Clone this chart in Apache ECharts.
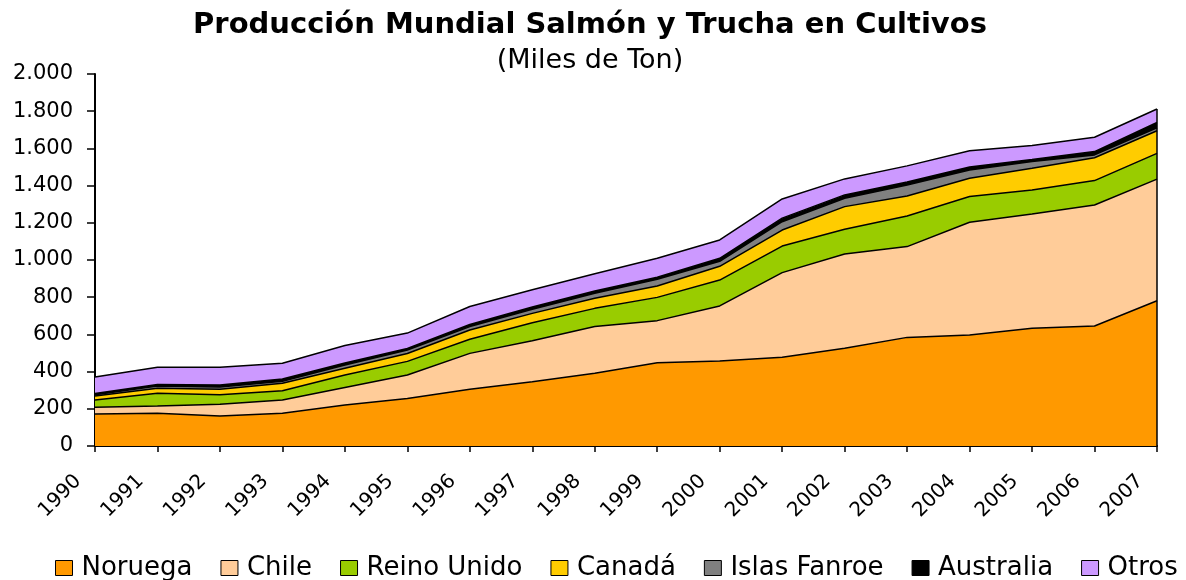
<!DOCTYPE html>
<html>
<head>
<meta charset="utf-8">
<script src="https://cdn.jsdelivr.net/npm/echarts@6/dist/echarts.min.js"></script>
<style>
  html,body{margin:0;padding:0;background:#fff;}
  #chart{width:1186px;height:580px;}
</style>
</head>
<body>
<div id="chart"></div>
<script>
  var years = ['1990','1991','1992','1993','1994','1995','1996','1997','1998','1999','2000','2001','2002','2003','2004','2005','2006','2007'];
  var noruega = [172,176,161,176,220,256,305,346,391,448,457,477,525,584,597,633,645,781];
  var chile = [36,39,63,71,95,126,193,220,251,226,296,455,507,488,606,614,651,654];
  var reinoUnido = [39,68,52,50,67,73,76,97,98,125,139,143,133,165,138,129,131,138];
  var canada = [22,27,29,40,36,42,50,50,54,61,74,86,122,107,98,117,123,122];
  var islasFanroe = [7,12,12,11,17,19,18,22,27,36,27,45,45,59,45,36,15,16];
  var australia = [6,9,11,12,11,8,12,12,12,12,16,19,18,16,16,11,18,28];
  var otros = [89,92,96,85,94,83,96,93,93,101,99,103,86,87,87,76,77,73];

  var names = ['Noruega','Chile','Reino Unido','Canadá','Islas Fanroe','Australia','Otros'];
  var colors = ['#FF9900','#FFCC99','#99CC00','#FFCC00','#808080','#000000','#CC99FF'];
  var values = [noruega,chile,reinoUnido,canada,islasFanroe,australia,otros];
  var font = 'DejaVu Sans, Liberation Sans, sans-serif';

  var chart = echarts.init(document.getElementById('chart'));

  // total of last year, for the closing edge of the stack
  var last = years.length - 1;
  var lastTotal = 0;
  values.forEach(function(v){ lastTotal += v[last]; });

  var series = [];
  names.forEach(function(n,i){
    var s = {
      name:n,
      type:'line',
      stack:'total',
      showSymbol:false,
      symbol:'none',
      lineStyle:{color:'#000',width:1.5},
      itemStyle:{color:colors[i],borderColor:'#000',borderWidth:1},
      areaStyle:{color:colors[i],opacity:1},
      emphasis:{disabled:true},
      data:values[i]
    };
    if (i == names.length - 1) {
      s.markLine = {
        silent:true,
        symbol:'none',
        label:{show:false},
        lineStyle:{color:'#000',width:1.5,type:'solid'},
        data:[[{coord:[years[last],0]},{coord:[years[last],lastTotal]}]]
      };
    }
    series.push(s);
  });

  function fmt(v){
    var s = String(v);
    if (v >= 1000) s = s.slice(0,s.length-3) + '.' + s.slice(s.length-3);
    return s;
  }

  var option = {
    animation:false,
    color:colors,
    textStyle:{fontFamily:font},
    title:[{
      text:'Producción Mundial Salmón y Trucha en Cultivos',
      left:585, top:6, textAlign:'center',
      textStyle:{fontSize:29,fontWeight:'bold',color:'#000',fontFamily:font}
    },{
      text:'(Miles de Ton)',
      left:585, top:42, textAlign:'center',
      textStyle:{fontSize:27,fontWeight:'normal',color:'#000',fontFamily:font}
    }],
    legend:{
      top:550,
      left:50,
      icon:'rect',
      itemWidth:17,
      itemHeight:15,
      itemGap:28,
      itemStyle:{borderColor:'#000',borderWidth:1},
      textStyle:{fontSize:26,color:'#000',fontFamily:font,padding:[0,0,0,4]},
      data:names
    },
    grid:{left:95,right:29,top:74,bottom:134},
    xAxis:{
      type:'category',
      boundaryGap:false,
      data:years,
      axisLine:{lineStyle:{color:'#000',width:2}},
      axisTick:{show:true,length:6,lineStyle:{color:'#000',width:1.5}},
      axisLabel:{rotate:45,fontSize:20,color:'#000',margin:15,interval:0,padding:[0,24,0,0]}
    },
    yAxis:{
      type:'value',
      min:0,max:2000,interval:200,
      axisLine:{show:true,lineStyle:{color:'#000',width:2}},
      axisTick:{show:true,length:8,lineStyle:{color:'#000',width:1.5}},
      splitLine:{show:false},
      axisLabel:{fontSize:21,color:'#000',margin:22,formatter:function(v){return fmt(v);}}
    },
    series:series
  };
  chart.setOption(option);
</script>
</body>
</html>
